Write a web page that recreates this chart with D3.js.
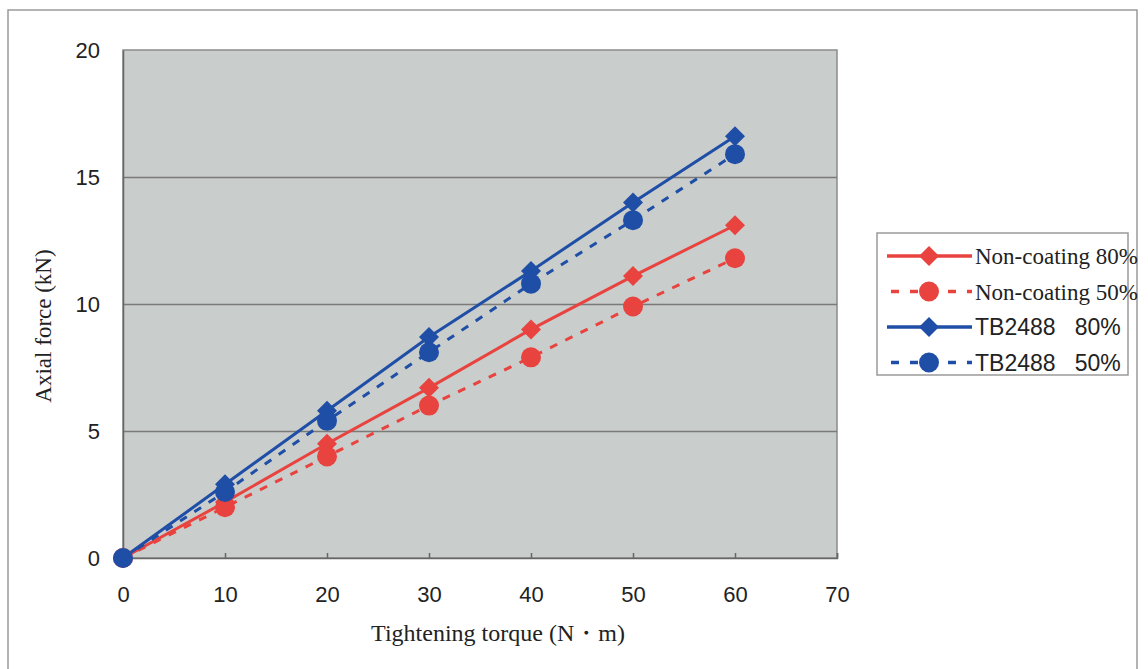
<!DOCTYPE html>
<html>
<head>
<meta charset="utf-8">
<script src="https://cdn.jsdelivr.net/npm/d3@7"></script>
<style>
  body { margin: 0; background: #fff; }
  .axis text { font-family: "Liberation Sans", Arial, sans-serif; font-size: 22px; fill: #222; }
  .serif { font-family: "Liberation Serif", "Times New Roman", serif; fill: #222; }
</style>
</head>
<body>
<svg width="1148" height="669"></svg>
<script>
// data
var torque = [0, 10, 20, 30, 40, 50, 60];
var nonCoating80 = [0, 2.2, 4.5, 6.7, 9.0, 11.1, 13.1];
var nonCoating50 = [0, 2.0, 4.0, 6.0, 7.9, 9.9, 11.8];
var tb80 = [0, 2.9, 5.8, 8.7, 11.3, 14.0, 16.6];
var tb50 = [0, 2.6, 5.4, 8.1, 10.8, 13.3, 15.9];
var xTicks = [0, 10, 20, 30, 40, 50, 60, 70];
var yTicks = [0, 5, 10, 15, 20];

var red = "#e8433f", blue = "#1f4ea6";

var series = [
    { name: "Non-coating 80%", values: nonCoating80, color: red, dashed: false, marker: "diamond", font: "serif" },
    { name: "Non-coating 50%", values: nonCoating50, color: red, dashed: true, marker: "circle", font: "serif" },
    { name: "TB2488\u00a0\u00a0\u00a080%", values: tb80, color: blue, dashed: false, marker: "diamond", font: "sans" },
    { name: "TB2488\u00a0\u00a0\u00a050%", values: tb50, color: blue, dashed: true, marker: "circle", font: "sans" }
];

var svg = d3.select("svg"),
    margin = { top: 50, left: 123 },
    width = 714,
    height = 508;

// outer frame
svg.append("rect")
    .attr("x", 8).attr("y", 10)
    .attr("width", 1129).attr("height", 680)
    .attr("fill", "none")
    .attr("stroke", "#9a9a9a")
    .attr("stroke-width", 1.5);

var x = d3.scaleLinear().domain([0, 70]).range([0, width]),
    y = d3.scaleLinear().domain([0, 20]).range([height, 0]);

var g = svg.append("g")
    .attr("transform", "translate(" + margin.left + "," + margin.top + ")");

// grijze plot achtergrond
g.append("rect")
    .attr("width", width).attr("height", height)
    .attr("fill", "#c9cdcb")
    .attr("stroke", "#8a8a8a")
    .attr("stroke-width", 1.5);

// gridlijnen
g.append("g")
    .attr("class", "grid")
    .call(d3.axisLeft(y).tickValues([5, 10, 15]).tickSize(-width).tickFormat(""))
    .call(function (s) { s.select(".domain").remove(); })
    .selectAll("line")
    .attr("stroke", "#7a7a7a")
    .attr("stroke-width", 1.5);

// y as
g.append("g")
    .attr("class", "axis")
    .call(d3.axisLeft(y).tickValues(yTicks).tickSize(0).tickPadding(23))
    .call(function (s) {
        s.select(".domain").attr("stroke", "#666").attr("stroke-width", 1.5);
    });

// x as
g.append("g")
    .attr("class", "axis")
    .attr("transform", "translate(0," + height + ")")
    .call(d3.axisBottom(x).tickValues(xTicks).tickSize(-5).tickPadding(28))
    .call(function (s) {
        s.select(".domain").attr("stroke", "#666").attr("stroke-width", 1.5);
        s.selectAll(".tick line").attr("stroke", "#666").attr("stroke-width", 1.5);
    });

// as titels
svg.append("text")
    .attr("class", "serif")
    .attr("x", 498).attr("y", 641)
    .attr("text-anchor", "middle")
    .attr("font-size", 24)
    .text("Tightening torque (N\u30fbm)");

svg.append("text")
    .attr("class", "serif")
    .attr("transform", "translate(51,326) rotate(-90)")
    .attr("text-anchor", "middle")
    .attr("font-size", 23)
    .text("Axial force (kN)");

var line = d3.line()
    .x(function (d, i) { return x(torque[i]); })
    .y(function (d) { return y(d); });

function drawMarker(sel, s, cx, cy) {
    if (s.marker === "diamond") {
        sel.append("path")
            .attr("d", "M0,-10L10,0L0,10L-10,0Z")
            .attr("transform", "translate(" + cx + "," + cy + ")")
            .attr("fill", s.color);
    } else {
        sel.append("circle")
            .attr("cx", cx).attr("cy", cy)
            .attr("r", 10)
            .attr("fill", s.color);
    }
}

// lijnen en markers
series.forEach(function (s) {
    g.append("path")
        .datum(s.values)
        .attr("d", line)
        .attr("fill", "none")
        .attr("stroke", s.color)
        .attr("stroke-width", 3)
        .attr("stroke-dasharray", s.dashed ? "8,9" : null);
});

series.forEach(function (s) {
    var mg = g.append("g");
    s.values.forEach(function (v, i) {
        drawMarker(mg, s, x(torque[i]), y(v));
    });
});

// legenda
var legend = svg.append("g");
legend.append("rect")
    .attr("x", 877).attr("y", 233)
    .attr("width", 251).attr("height", 142)
    .attr("fill", "#fff")
    .attr("stroke", "#9a9a9a")
    .attr("stroke-width", 1.5);

series.forEach(function (s, i) {
    var ly = 256 + i * 35.5;
    legend.append("line")
        .attr("x1", 887).attr("x2", 972)
        .attr("y1", ly).attr("y2", ly)
        .attr("stroke", s.color)
        .attr("stroke-width", 3.5)
        .attr("stroke-dasharray", s.dashed ? "8,11" : null)
        .attr("stroke-dashoffset", s.dashed ? -4 : null);
    drawMarker(legend, s, 929, ly);
    legend.append("text")
        .attr("x", 975).attr("y", ly)
        .attr("dy", "0.35em")
        .attr("font-family", s.font === "serif" ? "Liberation Serif, serif" : "Liberation Sans, Arial, sans-serif")
        .attr("font-size", 23)
        .attr("fill", "#222")
        .text(s.name);
});
</script>
</body>
</html>
